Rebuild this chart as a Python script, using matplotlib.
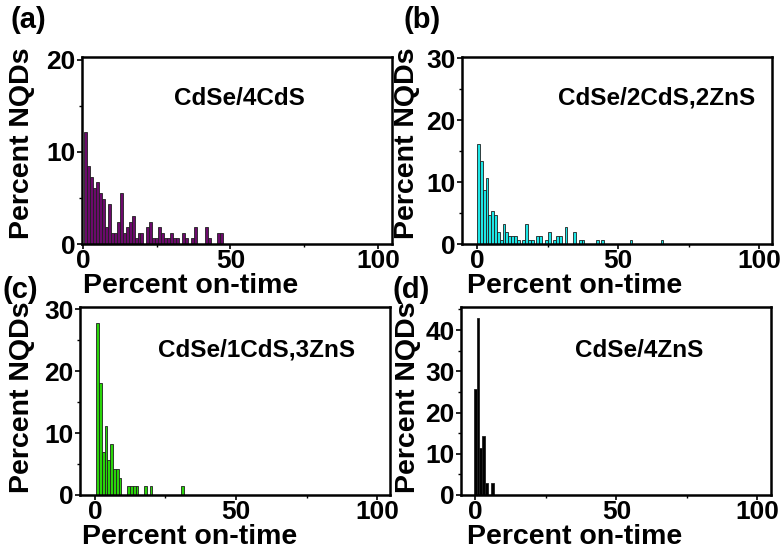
import numpy as np
import matplotlib
matplotlib.use("Agg")
import matplotlib.pyplot as plt
from matplotlib.ticker import MultipleLocator

plt.rcParams['font.family'] = ['Liberation Sans', 'DejaVu Sans']
plt.rcParams['font.weight'] = 'bold'

# ======================
# Histogram data (percent NQDs per 1% on-time bin)
# ======================
a_vals = [12.2, 8.5, 7.3, 6.1, 6.7, 5.5, 4.9, 1.8, 4.3, 1.2, 1.2, 2.4, 5.5, 1.2,
          1.8, 2.4, 3.0, 0.6, 1.2, 1.2, 0, 1.8, 2.4, 0.6, 0.6, 1.8, 1.2, 0.6,
          0.6, 1.2, 0.6, 0.6, 0, 1.2, 0.6, 0, 0.6, 1.8, 0, 0, 0, 1.8, 0.6, 0,
          0, 1.2, 1.2]
a_bins = np.arange(len(a_vals)) + 1.0

b_vals = [16.1, 13.4, 8.7, 10.7, 4.7, 5.3, 4.7, 2.0, 0.67, 3.3, 2.0, 1.3, 1.3,
          1.3, 0.67, 0, 0.67, 3.3, 0.67, 0.67, 0, 1.3, 1.3, 0, 0.67, 2.0, 0,
          0.67, 1.3, 1.3, 0, 2.7, 0, 0, 2.0, 0, 0.67, 0.67, 0, 0, 0, 0, 0.67,
          0, 0.67, 0, 0, 0, 0, 0, 0, 0, 0, 0, 0.67, 0, 0, 0, 0, 0, 0, 0, 0, 0,
          0, 0.67]
b_bins = np.arange(len(b_vals)) + 0.5

c_vals = [27.8, 18.1, 6.9, 11.1, 5.6, 8.3, 4.2, 4.2, 2.8, 0, 0, 1.4, 1.4, 1.4,
          1.4, 0, 0, 1.4, 0, 1.4, 0, 0, 0, 0, 0, 0, 0, 0, 0, 0, 1.4]
c_bins = np.arange(len(c_vals)) + 0.9

d_vals = [25.7, 42.9, 11.4, 14.3, 2.9, 2.9]
d_bins = [-0.1, 0.9, 1.9, 2.9, 3.9, 6.1]

panels = ['(a)', '(b)', '(c)', '(d)']
titles = ['CdSe/4CdS', 'CdSe/2CdS,2ZnS', 'CdSe/1CdS,3ZnS', 'CdSe/4ZnS']
colors = ['#6b0a6b', '#1ee6e6', '#2ad40a', '#000000']
ymax = [20.3, 30.2, 30.4, 45.6]
xlims = [(-0.4, 104.6), (-5.5, 104.4), (-5.3, 104.6), (-5.1, 104.8)]

# ======================
# Figure layout (pixel boxes: left, top, right, bottom)
# ======================
W, H = 783, 552
boxes = [(81.7, 57, 391.7, 244), (461.7, 57, 771.7, 244),
         (80, 307, 390, 495), (461, 307, 771, 495)]
title_pos = [(0.51, 0.78), (0.63, 0.78), (0.57, 0.77), (0.575, 0.77)]
label_pos = [(10, 20), (403, 20), (3, 290), (393, 290)]
xlab_pos = [(0.35, -0.222), (0.365, -0.222), (0.355, -0.225), (0.365, -0.225)]
ylab_pos = [(-0.193, 0.54), (-0.175, 0.54), (-0.187, 0.52), (-0.17, 0.52)]

fig = plt.figure(figsize=(W / 100, H / 100), dpi=100)

data = [(a_bins, a_vals), (b_bins, b_vals), (c_bins, c_vals), (d_bins, d_vals)]

for i, (bins, vals) in enumerate(data):
    l, t, r, b = boxes[i]
    ax = fig.add_axes([l / W, 1 - b / H, (r - l) / W, (b - t) / H])
    ax.bar(bins, vals, width=1.0, color=colors[i], edgecolor='#202020',
           linewidth=0.6)
    ax.set_xlim(*xlims[i])
    ax.set_ylim(0, ymax[i])
    ax.xaxis.set_major_locator(MultipleLocator(50))
    ax.xaxis.set_minor_locator(MultipleLocator(25))
    ax.yaxis.set_major_locator(MultipleLocator(10))
    ax.yaxis.set_minor_locator(MultipleLocator(5))
    for s in ax.spines.values():
        s.set_linewidth(1.8)
    ax.tick_params(which='major', direction='out', length=3.5, width=1.2,
                   labelsize=19, pad=1)
    ax.tick_params(axis='x', which='major', pad=0)
    ax.tick_params(which='minor', direction='out', length=2.2, width=1.0)
    for lab in ax.get_xticklabels() + ax.get_yticklabels():
        lab.set_fontweight('bold')
    ax.set_xlabel('Percent on-time', fontsize=20.5, fontweight='bold', va='center')
    ax.xaxis.set_label_coords(*xlab_pos[i])
    ax.set_ylabel('Percent NQDs', fontsize=20.5, fontweight='bold', va='center')
    ax.yaxis.set_label_coords(*ylab_pos[i])
    ax.text(title_pos[i][0], title_pos[i][1], titles[i], transform=ax.transAxes,
            ha='center', va='center', fontsize=17.5, fontweight='bold')
    fig.text(label_pos[i][0] / W, 1 - label_pos[i][1] / H, panels[i],
             ha='left', va='center', fontsize=21, fontweight='bold')

fig.savefig('out.png', dpi=100)
